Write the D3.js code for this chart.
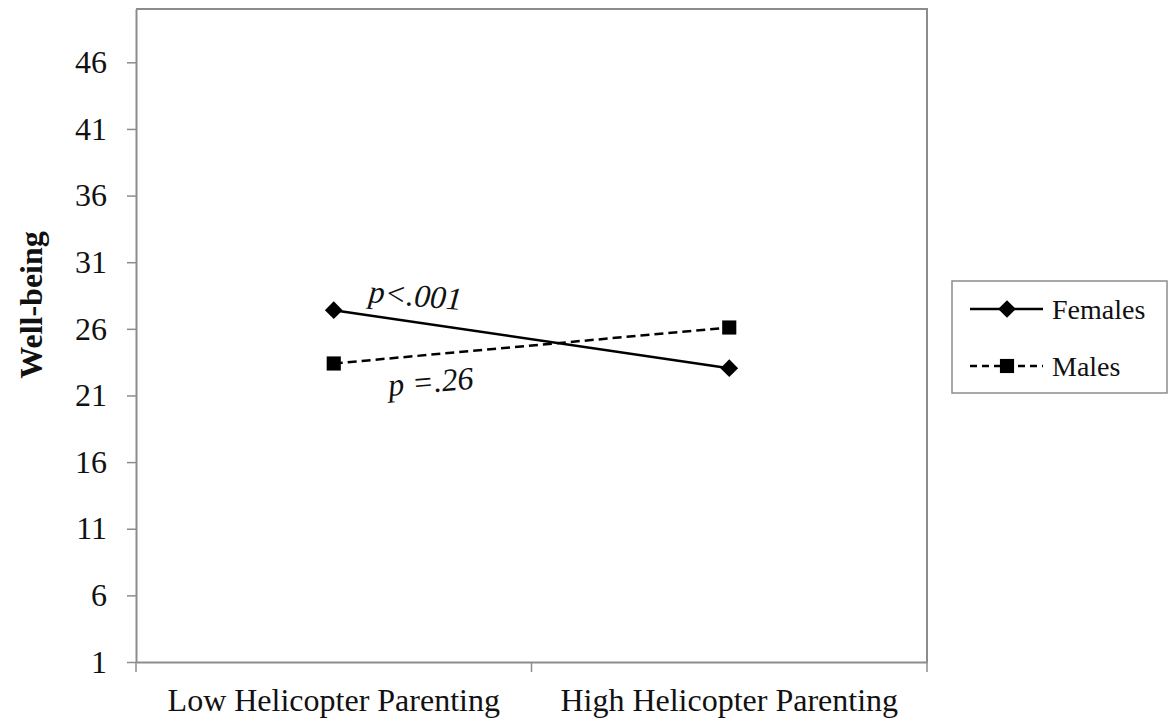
<!DOCTYPE html>
<html>
<head>
<meta charset="utf-8">
<script src="https://cdn.jsdelivr.net/npm/d3@7"></script>
<style>
  body { margin: 0; background: #fff; }
  svg { display: block; font-family: "Liberation Serif", "Times New Roman", serif; }
</style>
</head>
<body>
<svg width="1168" height="724"></svg>
<script>
var categories = ["Low Helicopter Parenting", "High Helicopter Parenting"];
var females = [27.4, 23.05];
var males = [23.4, 26.1];
var yTicks = [1, 6, 11, 16, 21, 26, 31, 36, 41, 46];
var seriesNames = ["Females", "Males"];

var svg = d3.select("svg"),
    plotLeft = 136, plotTop = 9, plotRight = 927, plotBottom = 662,
    width = plotRight - plotLeft,
    height = plotBottom - plotTop;

var g = svg.append("g").attr("transform", "translate(" + plotLeft + "," + plotTop + ")");

var xScale = d3.scaleBand().domain(categories).range([0, width]).padding(0),
    yScale = d3.scaleLinear().domain([1, 50]).range([height, 0]);

// plot area border (top and right)
g.append("path")
 .attr("d", "M0,0H" + width + "V" + height)
 .attr("fill", "none")
 .attr("stroke", "#8c8c8c")
 .attr("stroke-width", 2);

// y axis
var yAxis = g.append("g")
 .call(d3.axisLeft(yScale).tickValues(yTicks).tickSize(9).tickPadding(20).tickSizeOuter(0));
yAxis.select(".domain").attr("stroke", "#8c8c8c").attr("stroke-width", 2);
yAxis.selectAll(".tick line").attr("stroke", "#8c8c8c").attr("stroke-width", 1.5);
yAxis.selectAll(".tick text")
 .attr("font-size", "32px")
 .attr("font-family", "Liberation Serif")
 .attr("fill", "#111");

// x axis
var xAxis = g.append("g")
 .attr("transform", "translate(0," + height + ")")
 .call(d3.axisBottom(xScale).tickSize(0).tickPadding(26).tickSizeOuter(0));
xAxis.select(".domain").attr("stroke", "#8c8c8c").attr("stroke-width", 2);
xAxis.selectAll(".tick text")
 .attr("font-size", "32px")
 .attr("font-family", "Liberation Serif")
 .attr("fill", "#111");

xAxis.selectAll(".bound")
 .data(d3.range(categories.length + 1))
 .enter().append("line")
 .attr("class", "bound")
 .attr("x1", function(i) { return i * xScale.step(); })
 .attr("x2", function(i) { return i * xScale.step(); })
 .attr("y1", 0)
 .attr("y2", 10)
 .attr("stroke", "#8c8c8c")
 .attr("stroke-width", 1.5);

// y title
svg.append("text")
 .attr("transform", "translate(42,305) rotate(-90)")
 .attr("text-anchor", "middle")
 .attr("font-size", "32px")
 .attr("font-weight", "bold")
 .attr("fill", "#111")
 .text("Well-being");

var line = d3.line()
 .x(function(d, i) { return xScale(categories[i]) + xScale.bandwidth() / 2; })
 .y(function(d) { return yScale(d); });

g.append("path")
 .datum(females)
 .attr("d", line)
 .attr("fill", "none")
 .attr("stroke", "#000")
 .attr("stroke-width", 2.5);

g.append("path")
 .datum(males)
 .attr("d", line)
 .attr("fill", "none")
 .attr("stroke", "#000")
 .attr("stroke-width", 2.5)
 .attr("stroke-dasharray", "9,5");

var diamond = d3.symbol().type(d3.symbolDiamond2).size(200),
    square = d3.symbol().type(d3.symbolSquare).size(200);

g.selectAll(".fem")
 .data(females)
 .enter().append("path")
 .attr("class", "fem")
 .attr("transform", function(d, i) {
     return "translate(" + (xScale(categories[i]) + xScale.bandwidth() / 2) + "," + yScale(d) + ")";
 })
 .attr("d", diamond)
 .attr("fill", "#000");

g.selectAll(".mal")
 .data(males)
 .enter().append("path")
 .attr("class", "mal")
 .attr("transform", function(d, i) {
     return "translate(" + (xScale(categories[i]) + xScale.bandwidth() / 2) + "," + yScale(d) + ")";
 })
 .attr("d", square)
 .attr("fill", "#000");

// p-value annotations
svg.append("text")
 .attr("transform", "translate(368,302) rotate(5)")
 .attr("font-size", "32px")
 .attr("font-style", "italic")
 .attr("fill", "#111")
 .text("p<.001");

svg.append("text")
 .attr("transform", "translate(389,396) rotate(-5)")
 .attr("font-size", "32px")
 .attr("font-style", "italic")
 .attr("fill", "#111")
 .text("p =.26");

// legend
var legend = svg.append("g").attr("transform", "translate(952,281)");
legend.append("rect")
 .attr("width", 215)
 .attr("height", 112)
 .attr("fill", "#fff")
 .attr("stroke", "#8c8c8c")
 .attr("stroke-width", 1.5);

var items = legend.selectAll(".item")
 .data(seriesNames)
 .enter().append("g")
 .attr("class", "item")
 .attr("transform", function(d, i) { return "translate(0," + (28 + i * 57) + ")"; });

items.append("line")
 .attr("x1", 18).attr("x2", 91)
 .attr("stroke", "#000")
 .attr("stroke-width", 2.5)
 .attr("stroke-dasharray", function(d, i) { return i ? "7,5" : null; });

items.append("path")
 .attr("transform", "translate(55,0)")
 .attr("d", function(d, i) { return i ? square() : diamond(); })
 .attr("fill", "#000");

items.append("text")
 .attr("x", 100)
 .attr("y", 10)
 .attr("font-size", "28px")
 .attr("fill", "#111")
 .text(function(d) { return d; });
</script>
</body>
</html>
